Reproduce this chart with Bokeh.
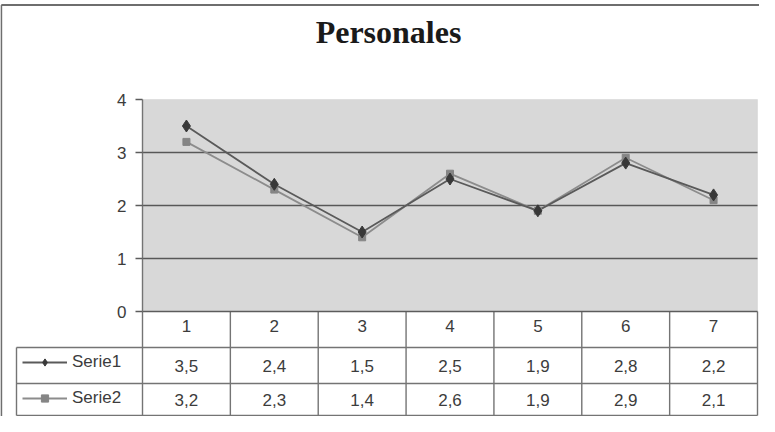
from bokeh.plotting import figure
from bokeh.models import (LinearAxis, FixedTicker, Range1d, Legend, LegendItem,
                          BoxAnnotation, Label, Grid)
from bokeh.core.properties import value
from bokeh.embed import file_html
from bokeh.resources import INLINE

# ---- data ----
title_text = "Personales"
categories = [1, 2, 3, 4, 5, 6, 7]
serie1 = [3.5, 2.4, 1.5, 2.5, 1.9, 2.8, 2.2]
serie2 = [3.2, 2.3, 1.4, 2.6, 1.9, 2.9, 2.1]
series_names = ["Serie1", "Serie2"]
y_ticks = [0, 1, 2, 3, 4]

# ---- layout constants (pixels) ----
W, H = 759, 416
PX_X = 87.857      # px per category column
X0_PX = 142        # screen x of the left edge of the first column
PX_Y = 53          # px per y unit
Y0_PX = 311        # screen y of y=0

x_start = 0.5 - X0_PX / PX_X
x_end = x_start + W / PX_X
y_end = Y0_PX / PX_Y
y_start = y_end - H / PX_Y

def dx(px):
    return x_start + px / PX_X

def dy(px):
    return y_end - px / PX_Y

FONT = "Liberation Sans"
TXT = "#3c3c3c"

p = figure(width=W, height=H, output_backend="svg", toolbar_location=None,
           x_range=Range1d(x_start, x_end), y_range=Range1d(y_start, y_end),
           x_axis_location=None, y_axis_location=None, min_border=0)
p.outline_line_color = None
p.background_fill_color = "white"
p.border_fill_color = "white"
for r in list(p.center):
    if isinstance(r, Grid):
        r.visible = False

left = categories[0] - 0.5
right = categories[-1] + 0.5

# plot area
p.add_layout(BoxAnnotation(left=left, right=right, bottom=y_ticks[0], top=y_ticks[-1],
                           fill_color="#d8d8d8", fill_alpha=1.0,
                           line_color="#c4c4c4", line_width=1, level="underlay"))

# horizontal gridlines
inner = y_ticks[1:-1]
p.segment(x0=[left] * len(inner), x1=[right] * len(inner), y0=inner, y1=inner,
          line_color="#585858", line_width=1.7)

# table geometry
row_px = [36, 72, 104]
row_y = [-r / PX_Y for r in row_px]
leg_left = dx(16)
col_edges = [c - 0.5 for c in categories] + [categories[-1] + 0.5]
tcol = "#747474"
# vertical lines of table
p.segment(x0=col_edges, x1=col_edges, y0=[0] * len(col_edges), y1=[row_y[-1]] * len(col_edges),
          line_color=tcol, line_width=1.4)
p.segment(x0=[leg_left], x1=[leg_left], y0=[row_y[0]], y1=[row_y[-1]],
          line_color=tcol, line_width=1.4)
# horizontal lines of table
p.segment(x0=[leg_left] * 3, x1=[right] * 3, y0=row_y, y1=row_y,
          line_color=tcol, line_width=1.4)

# outer chart frame (left and top)
p.segment(x0=[dx(0.8), dx(0.8)], x1=[dx(0.8), x_end], y0=[y_start, dy(4.5)], y1=[dy(4.5), dy(4.5)],
          line_color="#6e6e6e", line_width=1.8)

# series
l2 = p.line(categories, serie2, line_color="#8c8c8c", line_width=1.8)
l1 = p.line(categories, serie1, line_color="#5a5a5a", line_width=1.8)
s2 = p.scatter(categories, serie2, marker="square", size=7, color="#858585")
s1 = p.scatter(categories, serie1, marker="diamond", size=12, color="#383838")

# table values
mid1 = (row_y[0] + row_y[1]) / 2
mid2 = (row_y[1] + row_y[2]) / 2
for vals, ym in ((serie1, mid1), (serie2, mid2)):
    labels = [f"{v:.1f}".replace(".", ",") for v in vals]
    p.text(x=categories, y=[ym] * len(vals), text=labels, text_align="center",
           text_baseline="middle", text_font=value(FONT), text_font_size="17px",
           text_color=TXT)

# y axis
yaxis = LinearAxis(fixed_location=left, ticker=FixedTicker(ticks=y_ticks), bounds=(y_ticks[0], y_ticks[-1]))
yaxis.axis_line_color = tcol
yaxis.axis_line_width = 1.4
yaxis.major_tick_out = 7
yaxis.major_tick_in = 0
yaxis.major_tick_line_color = "#5c5c5c"
yaxis.major_tick_line_width = 1.4
yaxis.minor_tick_out = 0
yaxis.minor_tick_in = 0
yaxis.major_label_standoff = 9
yaxis.major_label_text_font = FONT
yaxis.major_label_text_font_size = "17px"
yaxis.major_label_text_color = TXT
p.add_layout(yaxis, "left")

# x axis (header row of the table)
xaxis = LinearAxis(fixed_location=0, ticker=FixedTicker(ticks=categories), bounds=(left, right))
xaxis.axis_line_color = "#5c5c5c"
xaxis.axis_line_width = 1.6
xaxis.major_tick_out = 0
xaxis.major_tick_in = 0
xaxis.minor_tick_out = 0
xaxis.minor_tick_in = 0
xaxis.major_label_standoff = 8
xaxis.major_label_text_font = FONT
xaxis.major_label_text_font_size = "17px"
xaxis.major_label_text_color = TXT
p.add_layout(xaxis, "below")

# legend inside table
legend = Legend(items=[LegendItem(label=series_names[0], renderers=[l1, s1]),
                       LegendItem(label=series_names[1], renderers=[l2, s2])],
                location=(22, 8), padding=0, margin=0, spacing=16,
                glyph_width=45, glyph_height=18, label_height=18, label_standoff=5,
                label_text_font=FONT, label_text_font_size="17px", label_text_color=TXT,
                background_fill_alpha=0, border_line_color=None)
p.add_layout(legend)

# title
p.add_layout(Label(x=dx(388), y=dy(31), text=title_text, text_align="center",
                   text_baseline="middle", text_font="Liberation Serif",
                   text_font_style="bold", text_font_size="32px", text_color="#1a1a1a"))

open("out.html", "w").write(file_html(p, INLINE))
